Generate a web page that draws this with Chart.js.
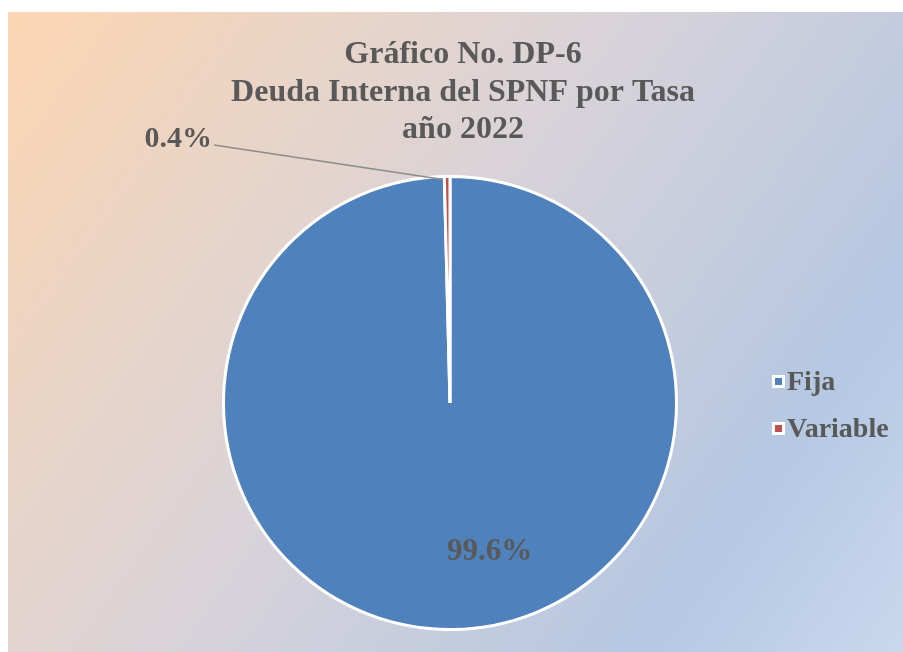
<!DOCTYPE html>
<html>
<head>
<meta charset="utf-8">
<script src="https://cdn.jsdelivr.net/npm/chart.js@4.4.0/dist/chart.umd.min.js"></script>
<style>
  html, body { margin: 0; padding: 0; background: #ffffff; }
  #wrap { width: 903px; height: 652px; position: relative; }
</style>
</head>
<body>
<div id="wrap"><canvas id="grafico" width="903" height="652"></canvas></div>
<script>
// Datos del gráfico
const categorias = ['Fija', 'Variable'];
const porcentajes = [99.6, 0.4];
const etiquetas = ['99.6%', '0.4%'];
const tituloLineas = ['Gráfico No. DP-6', 'Deuda Interna del SPNF por Tasa', 'año 2022'];

const colores = ['#4f81bd', '#c0504d'];
const textoColor = '#595959';
const fuente = '"Liberation Serif", "Times New Roman", serif';

// Fondo degradado, título, etiquetas y leyenda
const decoracion = {
    id: 'decoracion',
    beforeDraw(chart) {
        const ctx = chart.ctx;
        const g = ctx.createLinearGradient(8, 12, 903, 652);
        g.addColorStop(0, '#fcd6b2');
        g.addColorStop(0.45, '#d9d3d9');
        g.addColorStop(0.8, '#b5c7e2');
        g.addColorStop(1, '#c8d8ee');
        ctx.save();
        ctx.fillStyle = g;
        ctx.fillRect(8, 12, 895, 640);
        ctx.restore();
    },
    afterDraw(chart) {
        const ctx = chart.ctx;
        const arcs = chart.getDatasetMeta(0).data;
        const cx = arcs[0].x, cy = arcs[0].y, r = arcs[0].outerRadius;
        ctx.save();

        // Título
        ctx.fillStyle = textoColor;
        ctx.font = 'bold 32px ' + fuente;
        ctx.textAlign = 'center';
        ctx.textBaseline = 'alphabetic';
        tituloLineas.forEach((t, i) => ctx.fillText(t, 463, 63 + i * 37.5));

        // Etiqueta grande (Fija)
        ctx.font = 'bold 31px ' + fuente;
        ctx.fillText(etiquetas[0], cx + r * 0.175, cy + r * 0.65 + 10);

        // Etiqueta pequeña (Variable) con línea guía
        const a = arcs[1];
        const mid = (a.startAngle + a.endAngle) / 2;
        const px = cx + Math.cos(mid) * r, py = cy + Math.sin(mid) * r;
        ctx.strokeStyle = '#8c8c8c';
        ctx.lineWidth = 1.5;
        ctx.beginPath();
        ctx.moveTo(px - 4, py + 3);
        ctx.lineTo(214, 145);
        ctx.stroke();
        ctx.font = 'bold 30px ' + fuente;
        ctx.textAlign = 'right';
        ctx.fillText(etiquetas[1], 212, 147);

        // Leyenda
        ctx.font = 'bold 28px ' + fuente;
        ctx.textAlign = 'left';
        categorias.forEach((c, i) => {
            const y = 381 + i * 47;
            ctx.fillStyle = '#ffffff';
            ctx.fillRect(772, y - 6, 13, 13);
            ctx.fillStyle = colores[i];
            ctx.fillRect(775, y - 3, 7, 7);
            ctx.fillStyle = textoColor;
            ctx.fillText(c, 787, y + 9);
        });
        ctx.restore();
    }
};

new Chart(document.getElementById('grafico'), {
    type: 'pie',
    data: {
        labels: categorias,
        datasets: [{
            data: porcentajes,
            backgroundColor: colores,
            borderColor: '#ffffff',
            borderWidth: 3
        }]
    },
    options: {
        responsive: false,
        animation: false,
        layout: { padding: { left: 222, top: 175, right: 225, bottom: 21 } },
        plugins: {
            legend: { display: false },
            tooltip: { enabled: false },
            title: { display: false }
        }
    },
    plugins: [decoracion]
});
</script>
</body>
</html>
